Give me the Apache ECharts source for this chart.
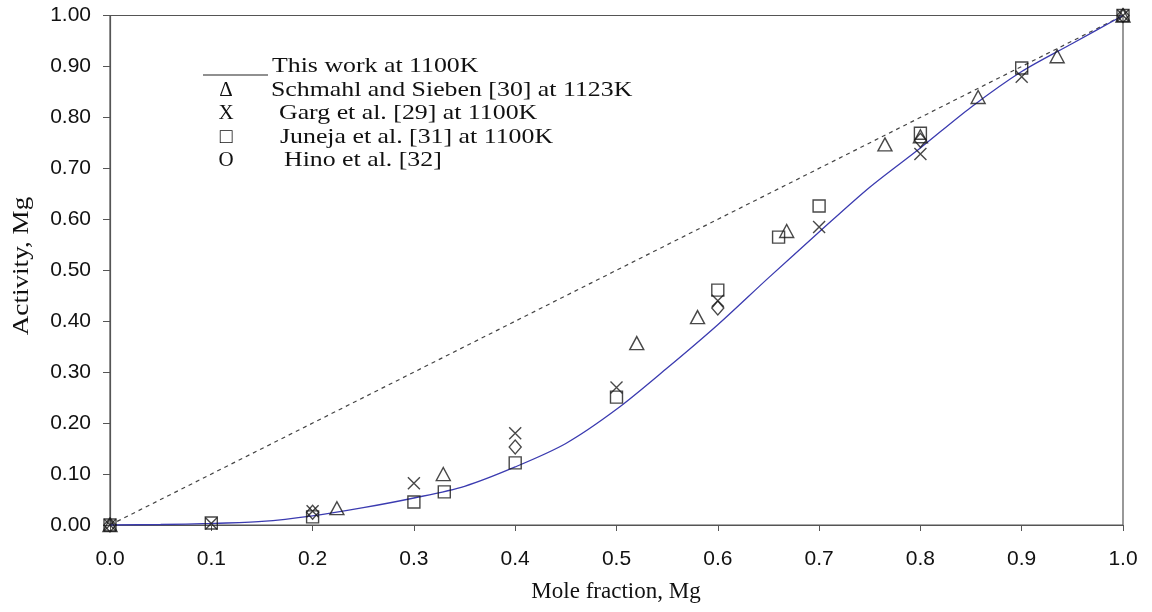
<!DOCTYPE html>
<html>
<head>
<meta charset="utf-8">
<script src="https://cdn.jsdelivr.net/npm/echarts@6/dist/echarts.min.js"></script>
<style>html,body{margin:0;padding:0;background:#fff;}#c{width:1152px;height:612px;}</style>
</head>
<body>
<div id="c"></div>
<script>
// ---- data ----
const modelCurve = [[0,0],[0.05,0.001],[0.1,0.003],[0.15,0.007],[0.2,0.018],[0.25,0.034],[0.3,0.053],[0.35,0.076],[0.4,0.114],[0.45,0.16],[0.5,0.227],[0.55,0.308],[0.6,0.393],[0.65,0.485],[0.7,0.575],[0.75,0.663],[0.8,0.74],[0.85,0.82],[0.9,0.89],[0.95,0.945],[1,1]];
const raoultLine = [[0,0],[1,1]];
const schmahl = [[0,0],[0.224,0.033],[0.329,0.10],[0.52,0.357],[0.58,0.408],[0.668,0.577],[0.765,0.747],[0.8,0.763],[0.857,0.84],[0.935,0.92],[1,1]];
const garg = [[0,0],[0.1,0.003],[0.2,0.027],[0.3,0.082],[0.4,0.18],[0.5,0.27],[0.6,0.44],[0.7,0.585],[0.8,0.728],[0.9,0.88],[1,1]];
const juneja = [[0,0],[0.1,0.004],[0.2,0.016],[0.3,0.045],[0.33,0.065],[0.4,0.122],[0.5,0.251],[0.6,0.461],[0.66,0.565],[0.7,0.626],[0.8,0.769],[0.9,0.897],[1,1]];
const hino = [[0,0],[0.2,0.025],[0.4,0.153],[0.6,0.426],[0.8,0.755],[1,1]];
const legendSymbols = ['', '\u0394', 'X', '\u25A1', 'O'];
const legendTexts = ['This work at 1100K', 'Schmahl and Sieben [30] at 1123K', 'Garg et al. [29] at 1100K', 'Juneja et al. [31] at 1100K', 'Hino et al. [32]'];
const xTitle = 'Mole fraction, Mg';
const yTitle = 'Activity, Mg';

const axisCol = '#555555';
const serif = '"Liberation Serif","Times New Roman",serif';
const sans = '"Liberation Sans",Arial,sans-serif';
const markStyle = {color:'none', borderColor:'#1a1a1a', borderWidth:1.4};
const xPath = 'path://M0,0L10,10M10,0L0,10';

const chart = echarts.init(document.getElementById('c'));
const graphics = [];
graphics.push({type:'line', shape:{x1:203,y1:75,x2:268,y2:75}, style:{stroke:'#222', lineWidth:1.2}});
const rowY = [66, 90, 113, 137, 160];
const textX = [272, 271, 279, 280, 284];
legendTexts.forEach((t,i)=>{
  if (legendSymbols[i]) graphics.push({type:'text', x:226, y:rowY[i], style:{text:legendSymbols[i], font:'21px '+serif, fill:'#111', textAlign:'center', textVerticalAlign:'middle'}});
  graphics.push({type:'text', x:textX[i], y:rowY[i], scaleX:1.23, style:{text:t, font:'21px '+serif, fill:'#111', textAlign:'left', textVerticalAlign:'middle'}});
});
graphics.push({type:'text', x:616, y:592, style:{text:xTitle, font:'23px '+serif, fill:'#111', textAlign:'center', textVerticalAlign:'middle'}});
graphics.push({type:'text', x:22, y:266, rotation:Math.PI/2, scaleX:1.18, style:{text:yTitle, font:'23px '+serif, fill:'#111', textAlign:'center', textVerticalAlign:'middle'}});

chart.setOption({
  animation:false,
  backgroundColor:'#fff',
  grid:{left:110, right:29, top:15.5, bottom:87, show:true, borderColor:axisCol, borderWidth:1.2},
  xAxis:{type:'value', min:0, max:1, interval:0.1,
    axisLine:{show:true, lineStyle:{color:axisCol, width:1.2}},
    axisTick:{show:true, inside:false, length:6, lineStyle:{color:axisCol}},
    axisLabel:{fontFamily:sans, fontSize:21, color:'#111', margin:24, formatter:v=>v.toFixed(1)},
    splitLine:{show:false}},
  yAxis:{type:'value', min:0, max:1, interval:0.1,
    axisLine:{show:true, lineStyle:{color:axisCol, width:1.2}},
    axisTick:{show:true, inside:false, length:7, lineStyle:{color:axisCol}},
    axisLabel:{fontFamily:sans, fontSize:21, color:'#111', margin:19, formatter:v=>v.toFixed(2)},
    splitLine:{show:false}},
  graphic: graphics,
  series:[
    {type:'line', data:raoultLine, showSymbol:false, symbol:'none', lineStyle:{color:'#444', width:1.2, type:[4,4]}, z:1},
    {type:'line', data:modelCurve, showSymbol:false, symbol:'none', smooth:0.3, lineStyle:{color:'#3b3bb0', width:1.3}, z:2},
    {type:'scatter', data:schmahl, symbol:'triangle', symbolSize:[14,13], itemStyle:markStyle, z:3},
    {type:'scatter', data:garg, symbol:xPath, symbolSize:12, itemStyle:markStyle, z:3},
    {type:'scatter', data:juneja, symbol:'rect', symbolSize:12, itemStyle:markStyle, z:3},
    {type:'scatter', data:hino, symbol:'diamond', symbolSize:[12,14], itemStyle:markStyle, z:3}
  ]
});
</script>
</body>
</html>
